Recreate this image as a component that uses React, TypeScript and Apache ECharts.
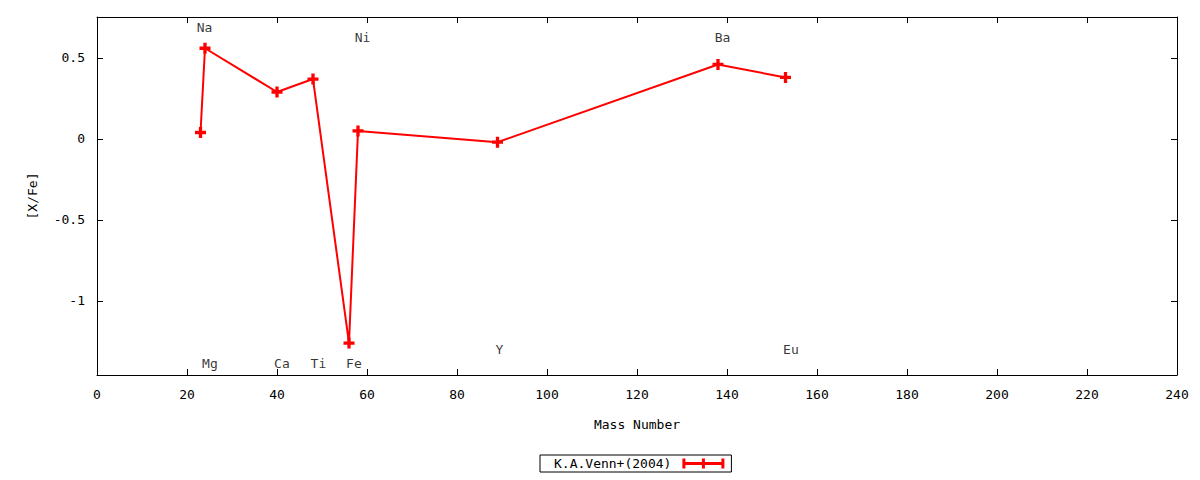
import React, { useEffect, useRef } from "react";
import * as echarts from "echarts";

const elements = ["Na", "Mg", "Ca", "Ti", "Fe", "Ni", "Y", "Ba", "Eu"];
const massNumbers = [23, 24, 40, 48, 56, 58, 89, 138, 153];
const xFeValues = [0.04, 0.56, 0.29, 0.37, -1.26, 0.05, -0.02, 0.46, 0.38];
// element label anchor positions in data coordinates (as placed in the reference)
const labelMass = [23.9, 25.1, 41.1, 49.2, 57.1, 59.0, 89.4, 139.0, 154.2];
const labelY = [0.688, -1.385, -1.385, -1.385, -1.385, 0.628, -1.298, 0.628, -1.298];
const seriesName = "K.A.Venn+(2004)";
const yTicks = [-1, -0.5, 0, 0.5];
const xMin = 0;
const xMax = 240;
const yMin = -1.457;
const yMax = 0.753;

const FONT = "DejaVu Sans Mono";
const PLUS =
  "path://M3.5,0H6.5V3.5H10V6.5H6.5V10H3.5V6.5H0V3.5H3.5Z";
const LEGEND_ICON =
  "path://M0,3.5H42V6.5H0Z M0,0H3V10H0Z M39,0H42V10H39Z M19.5,0H22.5V10H19.5Z";

export default function App() {
  const ref = useRef<HTMLDivElement>(null);
  useEffect(() => {
    document.body.style.margin = "0";
    if (!ref.current) return;
    const chart = echarts.init(ref.current, null, { renderer: "svg" });
    const axisText = { fontFamily: FONT, fontSize: 13, color: "#000" };
    const lineData = massNumbers.map((m, i) => [m, xFeValues[i]]);
    const labelData = elements.map((e, i) => ({
      value: [labelMass[i], labelY[i]],
      name: e,
    }));
    const tickStyle = { show: true, inside: true, length: 6, lineStyle: { color: "#000" } };
    const lineAxis = { show: true, onZero: false, lineStyle: { color: "#000", width: 1 } };
    chart.setOption({
      animation: false,
      backgroundColor: "#fff",
      grid: { left: 97, right: 23, top: 17, bottom: 105, containLabel: false },
      xAxis: [
        {
          type: "value",
          min: xMin,
          max: xMax,
          interval: 20,
          position: "bottom",
          name: "Mass Number",
          nameLocation: "middle",
          nameGap: 43,
          nameTextStyle: axisText,
          axisLine: lineAxis,
          axisTick: tickStyle,
          axisLabel: { ...axisText, margin: 13 },
          splitLine: { show: false },
        },
        {
          type: "value",
          min: xMin,
          max: xMax,
          interval: 20,
          position: "top",
          axisLine: lineAxis,
          axisTick: tickStyle,
          axisLabel: { show: false },
          splitLine: { show: false },
        },
      ],
      yAxis: [
        {
          type: "value",
          min: yMin,
          max: yMax,
          position: "left",
          name: "[X/Fe]",
          nameLocation: "middle",
          nameGap: 58,
          nameRotate: 90,
          nameTextStyle: axisText,
          axisLine: lineAxis,
          axisTick: { ...tickStyle, customValues: yTicks },
          axisLabel: { ...axisText, margin: 12, customValues: yTicks },
          splitLine: { show: false },
        },
        {
          type: "value",
          min: yMin,
          max: yMax,
          position: "right",
          axisLine: lineAxis,
          axisTick: { ...tickStyle, customValues: yTicks },
          axisLabel: { show: false, customValues: yTicks },
          splitLine: { show: false },
        },
      ],
      legend: {
        left: 540,
        top: 455,
        orient: "horizontal",
        align: "right",
        padding: [2, 7, 2, 14],
        borderColor: "#000",
        borderWidth: 1,
        itemWidth: 42,
        itemHeight: 10,
        data: [{ name: seriesName, icon: LEGEND_ICON }],
        textStyle: { ...axisText, padding: [0, 6, 0, 0] },
        selectedMode: false,
      },
      tooltip: { show: false },
      series: [
        {
          name: seriesName,
          type: "line",
          data: lineData,
          xAxisIndex: 0,
          yAxisIndex: 0,
          symbol: PLUS,
          symbolSize: 11,
          showAllSymbol: true,
          lineStyle: { color: "#ff0000", width: 2 },
          itemStyle: { color: "#ff0000" },
          silent: true,
        },
        {
          name: "labels",
          type: "scatter",
          data: labelData,
          xAxisIndex: 0,
          yAxisIndex: 0,
          symbol: "circle",
          symbolSize: 1,
          itemStyle: { color: "rgba(0,0,0,0)" },
          label: {
            show: true,
            position: "inside",
            formatter: (p: any) => p.name,
            ...axisText,
          },
          silent: true,
        },
      ],
    });
    return () => chart.dispose();
  }, []);
  return (
    <div style={{ position: "fixed", left: 0, top: 0, width: 1200, height: 480, background: "#fff" }}>
      <div ref={ref} style={{ width: 1200, height: 480 }} />
    </div>
  );
}
